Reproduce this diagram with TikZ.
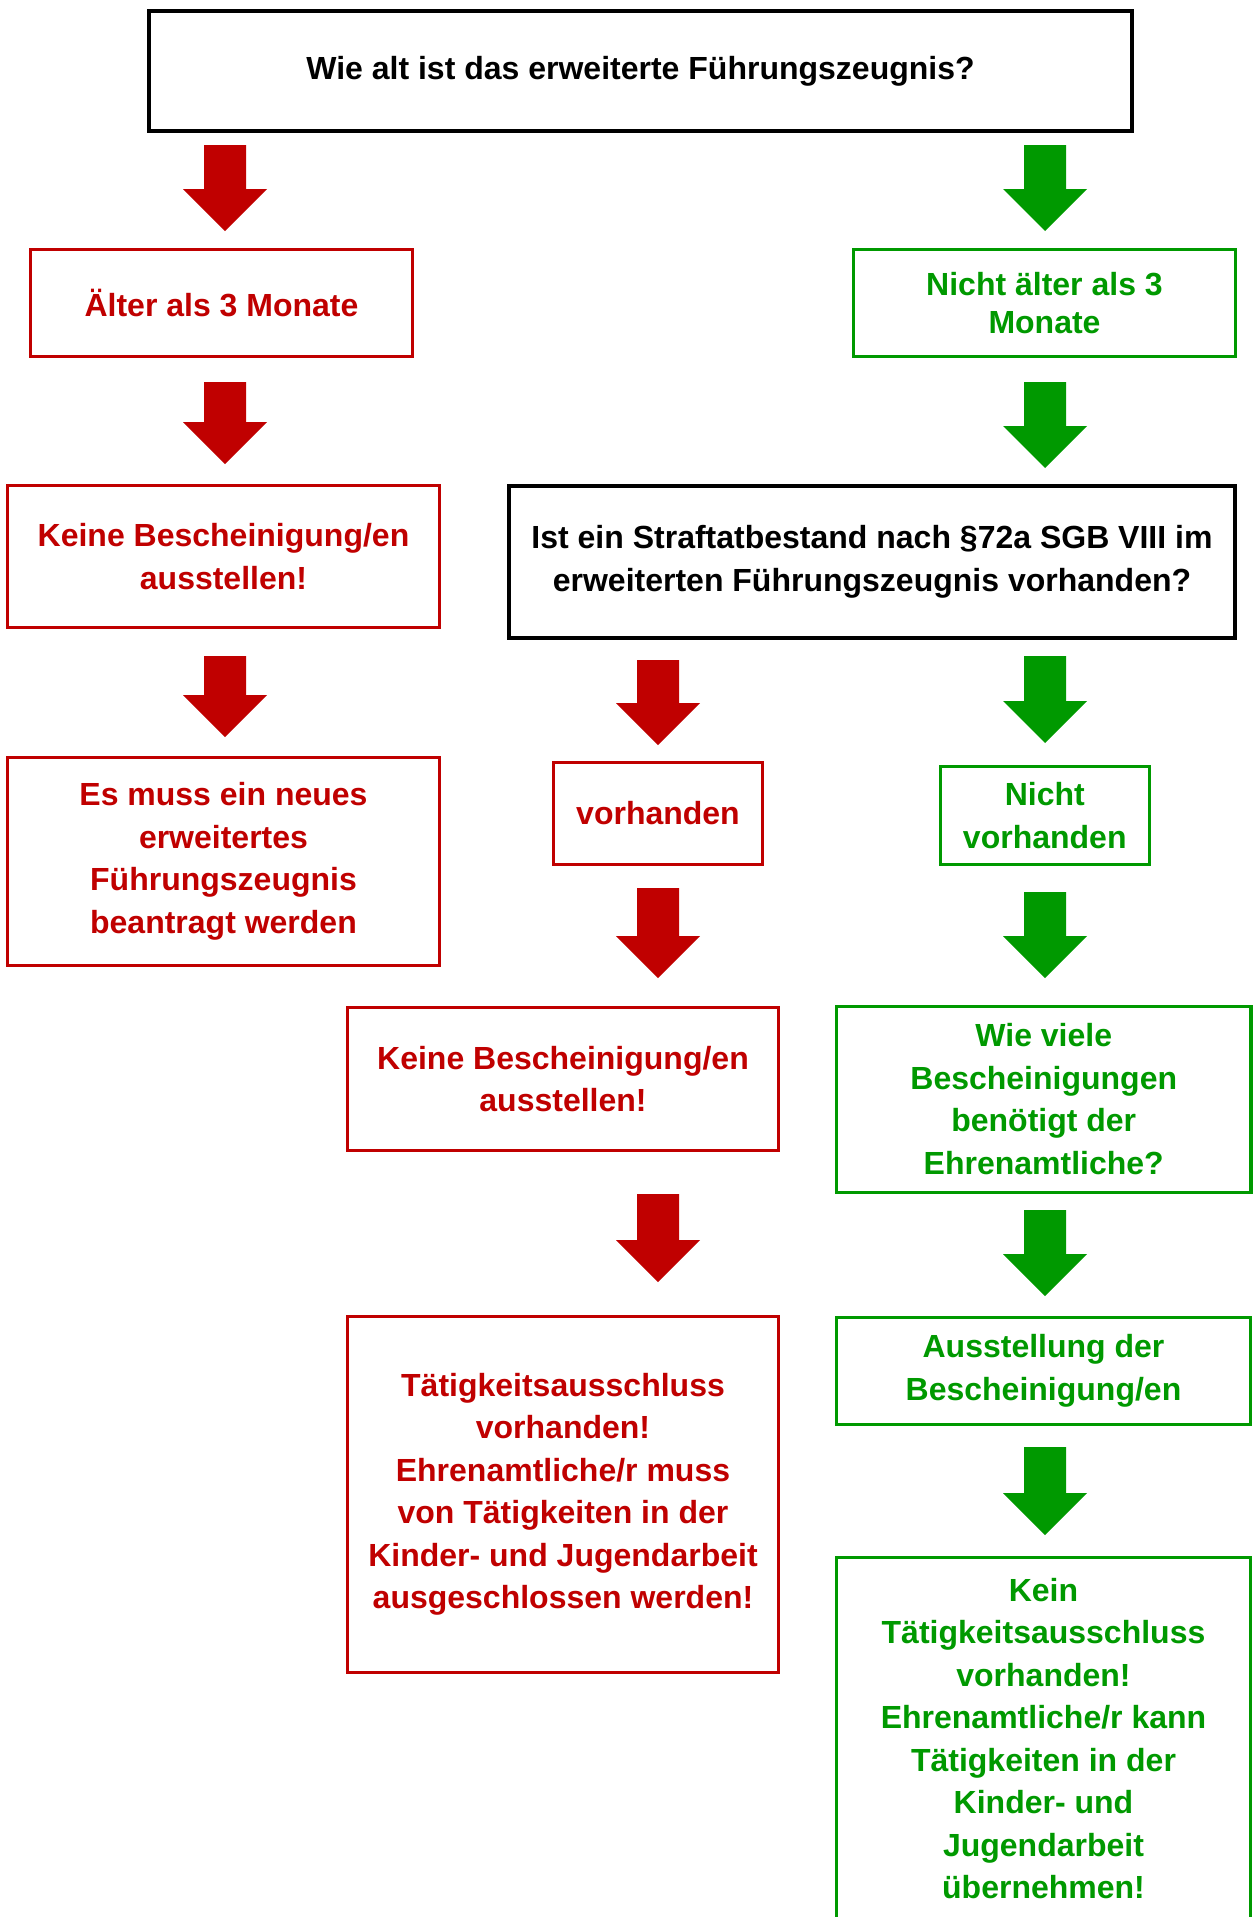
\documentclass[tikz,border=0pt]{standalone}
\usepackage{fontspec}
\setmainfont{Liberation Sans}
\definecolor{fred}{RGB}{192,0,0}
\definecolor{fgreen}{RGB}{0,153,0}
\newcommand{\blockarrow}[4]{%
  \fill[#1] (#2-21,#3) -- (#2+21,#3) -- (#2+21,#4-42) -- (#2+42,#4-42) -- (#2,#4) -- (#2-42,#4-42) -- (#2-21,#4-42) -- cycle;}
\begin{document}
\begin{tikzpicture}[x=1pt,y=-1pt,
  box/.style={draw, rectangle, inner sep=0pt, align=center,
    font=\fontsize{32}{42.5}\selectfont\bfseries},
  blackbox/.style={box, draw=black, line width=4pt, text=black},
  redbox/.style={box, draw=fred, line width=3.2pt, text=fred},
  greenbox/.style={box, draw=fgreen, line width=3.2pt, text=fgreen}]
\clip (0,0) rectangle (1255,1917);
\fill[white] (0,0) rectangle (1255,1917);

\node[blackbox, minimum width=983pt, minimum height=120pt] (top) at (640.5,71)
  {Wie alt ist das erweiterte Führungszeugnis?};

\node[redbox, minimum width=381.8pt, minimum height=106.8pt] (alt) at (221.5,303)
  {Älter als 3 Monate};
\node[greenbox, minimum width=381.8pt, minimum height=106.8pt] (nalt) at (1044.5,303)
  {Nicht älter als 3\\[-4pt]Monate};

\node[redbox, minimum width=431.8pt, minimum height=141.8pt] (keine1) at (223.5,556.5)
  {Keine Bescheinigung/en\\ausstellen!};
\node[blackbox, minimum width=726pt, minimum height=152pt] (ist) at (872,562)
  {Ist ein Straftatbestand nach §72a SGB VIII im\\[1pt]erweiterten Führungszeugnis vorhanden?};

\node[redbox, minimum width=431.8pt, minimum height=207.8pt] (neu) at (223.5,861.5)
  {Es muss ein neues\\erweitertes\\Führungszeugnis\\beantragt werden};
\node[redbox, minimum width=208.8pt, minimum height=101.8pt] (vorh) at (658,813.5)
  {vorhanden};
\node[greenbox, minimum width=209.3pt, minimum height=97.8pt] (nvorh) at (1044.75,815.5)
  {Nicht\\vorhanden};

\node[redbox, minimum width=430.8pt, minimum height=142.8pt] (keine2) at (563,1079)
  {Keine Bescheinigung/en\\ausstellen!};
\node[greenbox, minimum width=414.3pt, minimum height=186.3pt] (wie) at (1043.75,1099.25)
  {Wie viele\\Bescheinigungen\\benötigt der\\Ehrenamtliche?};

\node[redbox, minimum width=430.8pt, minimum height=355.8pt] (taet) at (563,1494.5)
  {Tätigkeitsausschluss\\vorhanden!\\Ehrenamtliche/r muss\\von Tätigkeiten in der\\Kinder- und Jugendarbeit\\ausgeschlossen werden!};
\node[greenbox, minimum width=413.8pt, minimum height=106.8pt] (ausst) at (1043.5,1371)
  {Ausstellung der\\Bescheinigung/en};
\node[greenbox, minimum width=413.8pt, minimum height=361.8pt] (kein) at (1043.5,1738.5)
  {Kein\\Tätigkeitsausschluss\\vorhanden!\\Ehrenamtliche/r kann\\Tätigkeiten in der\\Kinder- und\\Jugendarbeit\\übernehmen!};

\blockarrow{fred}{225}{145}{231}
\blockarrow{fgreen}{1045}{145}{231}
\blockarrow{fred}{225}{382}{464}
\blockarrow{fgreen}{1045}{382}{468}
\blockarrow{fred}{225}{656}{737}
\blockarrow{fred}{658}{660}{745}
\blockarrow{fgreen}{1045}{656}{743}
\blockarrow{fred}{658}{888}{978}
\blockarrow{fgreen}{1045}{892}{978}
\blockarrow{fred}{658}{1194}{1282}
\blockarrow{fgreen}{1045}{1210}{1296}
\blockarrow{fgreen}{1045}{1447}{1535}
\end{tikzpicture}
\end{document}
